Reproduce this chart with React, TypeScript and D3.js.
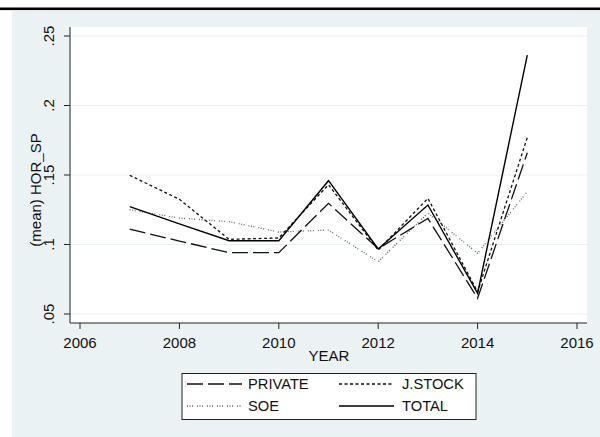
import React from "react";
import * as d3 from "d3";

const years = [2007, 2008, 2009, 2010, 2011, 2012, 2013, 2014, 2015];
const privateVals = [0.111, 0.1025, 0.0941, 0.0941, 0.1296, 0.097, 0.1188, 0.0613, 0.166];
const jstockVals = [0.1498, 0.1325, 0.1037, 0.1047, 0.143, 0.096, 0.1332, 0.066, 0.177];
const soeVals = [0.125, 0.119, 0.1164, 0.109, 0.1104, 0.0876, 0.1227, 0.0937, 0.138];
const totalVals = [0.1272, 0.1148, 0.1027, 0.1027, 0.1459, 0.0968, 0.1284, 0.0649, 0.2363];

const xTicks = [2006, 2008, 2010, 2012, 2014, 2016];
const yTicks = [0.05, 0.1, 0.15, 0.2, 0.25];
const yTickLabels = [".05", ".1", ".15", ".2", ".25"];

const seriesNames = ["PRIVATE", "J.STOCK", "SOE", "TOTAL"];

const FONT = "'Liberation Sans', Arial, sans-serif";
const BG = "#eaf2f3";

export default function App() {
  const x = d3.scaleLinear().domain([2006, 2016]).range([80, 577]);
  const y = d3.scaleLinear().domain([0.05, 0.25]).range([314, 36]);
  const plot = { x0: 70, x1: 587, y0: 27, y1: 323 };

  const styles: Record<string, { dash: string; color: string; width: number }> = {
    PRIVATE: { dash: "16,5", color: "#111", width: 1.3 },
    "J.STOCK": { dash: "3,2.5", color: "#111", width: 1.3 },
    SOE: { dash: "1,1.5,1,1.5,1,4", color: "#666", width: 1.3 },
    TOTAL: { dash: "", color: "#000", width: 1.4 },
  };
  const dataMap: Record<string, number[]> = {
    PRIVATE: privateVals,
    "J.STOCK": jstockVals,
    SOE: soeVals,
    TOTAL: totalVals,
  };

  const line = d3
    .line<number>()
    .x((_, i) => x(years[i]))
    .y((v) => y(v));

  const drawOrder = ["SOE", "PRIVATE", "J.STOCK", "TOTAL"];

  const legendItems = [
    { name: seriesNames[0], lx: 187, tx: 248, cy: 384 },
    { name: seriesNames[1], lx: 339, tx: 402, cy: 384 },
    { name: seriesNames[2], lx: 187, tx: 248, cy: 406 },
    { name: seriesNames[3], lx: 339, tx: 402, cy: 406 },
  ];

  const fs = 15;

  return (
    <svg
      width={600}
      height={437}
      style={{ position: "absolute", left: 0, top: 0, display: "block" }}
      fontFamily={FONT}
    >
      <rect x={0} y={0} width={600} height={437} fill="#fff" />
      <rect x={0} y={7.5} width={600} height={2.6} fill="#000" />
      <rect x={12} y={11} width={588} height={426} fill={BG} />
      <rect x={plot.x0} y={plot.y0} width={plot.x1 - plot.x0} height={plot.y1 - plot.y0} fill="#fff" />

      {yTicks.map((t) => (
        <line key={"g" + t} x1={plot.x0} x2={plot.x1} y1={y(t)} y2={y(t)} stroke={BG} strokeWidth={1.2} />
      ))}

      {drawOrder.map((name) => (
        <path
          key={name}
          d={line(dataMap[name]) || ""}
          fill="none"
          stroke={styles[name].color}
          strokeWidth={styles[name].width}
          strokeDasharray={styles[name].dash}
          strokeLinejoin="miter"
        />
      ))}

      <line x1={plot.x0} x2={plot.x0} y1={plot.y0} y2={plot.y1} stroke="#222" strokeWidth={1} />
      <line x1={plot.x0} x2={plot.x1} y1={plot.y1} y2={plot.y1} stroke="#222" strokeWidth={1} />

      {yTicks.map((t, i) => (
        <g key={"yt" + t}>
          <line x1={plot.x0 - 6} x2={plot.x0} y1={y(t)} y2={y(t)} stroke="#222" strokeWidth={1} />
          <text
            transform={`translate(54,${y(t)}) rotate(-90)`}
            textAnchor="middle"
            fontSize={fs}
            fill="#111"
          >
            {yTickLabels[i]}
          </text>
        </g>
      ))}

      {xTicks.map((t) => (
        <g key={"xt" + t}>
          <line x1={x(t)} x2={x(t)} y1={plot.y1} y2={plot.y1 + 6} stroke="#222" strokeWidth={1} />
          <text x={x(t)} y={347.5} textAnchor="middle" fontSize={fs} fill="#111">
            {t}
          </text>
        </g>
      ))}

      <text x={329} y={361} textAnchor="middle" fontSize={fs} fill="#111">
        YEAR
      </text>
      <text
        transform={`translate(41,190) rotate(-90)`}
        textAnchor="middle"
        fontSize={fs}
        fill="#111"
      >
        (mean) HOR_SP
      </text>

      <rect x={182} y={373.5} width={294} height={46} fill="#fff" stroke="#222" strokeWidth={1} />
      {legendItems.map((it) => (
        <g key={"lg" + it.name}>
          <line
            x1={it.lx}
            x2={it.lx + 55}
            y1={it.cy}
            y2={it.cy}
            stroke={styles[it.name].color}
            strokeWidth={styles[it.name].width}
            strokeDasharray={styles[it.name].dash}
          />
          <text x={it.tx} y={it.cy + 5.3} fontSize={14.7} fill="#111">
            {it.name}
          </text>
        </g>
      ))}
    </svg>
  );
}
